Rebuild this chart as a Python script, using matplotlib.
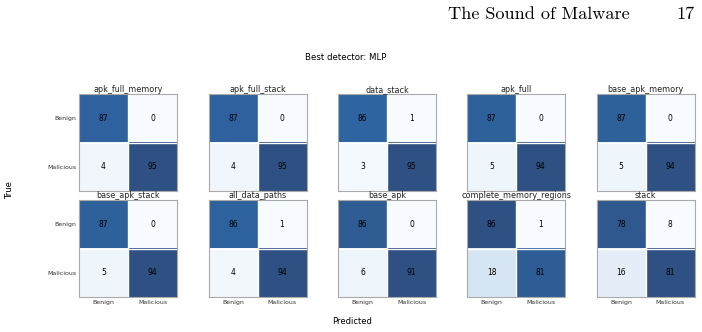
import matplotlib
matplotlib.use("Agg")
import matplotlib.pyplot as plt
import numpy as np

names = ["apk_full_memory", "apk_full_stack", "data_stack", "apk_full", "base_apk_memory",
         "base_apk_stack", "all_data_paths", "base_apk", "complete_memory_regions", "stack"]
tn = [87, 87, 86, 87, 87, 87, 86, 86, 86, 78]
fp = [0, 0, 1, 0, 0, 0, 1, 0, 1, 8]
fn = [4, 4, 3, 5, 5, 5, 4, 6, 18, 16]
tp = [95, 95, 95, 94, 94, 94, 94, 91, 81, 81]
classes = ["Benign", "Malicious"]

W, H = 702, 332
fig = plt.figure(figsize=(W / 100, H / 100), dpi=100)

lefts = [79, 208.5, 338, 467, 596.5]
tops = [94, 200]
aw, ah = 98, 97

for i, name in enumerate(names):
    r, c = divmod(i, 5)
    ax = fig.add_axes([lefts[c] / W, 1 - (tops[r] + ah) / H, aw / W, ah / H])
    m = np.array([[tn[i], fp[i]], [fn[i], tp[i]]])
    ax.imshow(m, cmap="Blues", alpha=0.85, vmin=m.min(), vmax=m.max(), aspect="auto")
    for (y, x), v in np.ndenumerate(m):
        ax.text(x, y, str(v), ha="center", va="center", fontsize=5.5, color="black")
    ax.set_xticks([0, 1])
    ax.set_yticks([0, 1])
    ax.set_xticks([0.5], minor=True)
    ax.set_yticks([0.5], minor=True)
    ax.grid(which="minor", color="white", linewidth=1.0)
    ax.tick_params(which="both", length=0, pad=2)
    if r == 1:
        ax.set_xticklabels(classes, fontsize=4.5, color="#333333")
    else:
        ax.set_xticklabels([])
    if c == 0:
        ax.set_yticklabels(classes, fontsize=4.5, color="#333333")
    else:
        ax.set_yticklabels([])
    for s in ax.spines.values():
        s.set_color("#aaaaaa")
        s.set_linewidth(0.8)
    ax.set_title(name, fontsize=5.8, pad=1.5, color="#222222")

fig.text(346 / W, 1 - 57 / H, "Best detector: MLP", ha="center", va="center", fontsize=6.2)
fig.text(10 / W, 1 - 190 / H, "True", ha="center", va="center", rotation=90, fontsize=6)
fig.text(352 / W, 1 - 322 / H, "Predicted", ha="center", va="center", fontsize=6)
fig.text(630 / W, 1 - 14 / H, "The Sound of Malware", ha="right", va="center",
         fontsize=13.1, family="cmr10")
fig.text(695 / W, 1 - 14 / H, "17", ha="right", va="center", fontsize=13.1, family="cmr10")

fig.savefig("out.png", dpi=100)
